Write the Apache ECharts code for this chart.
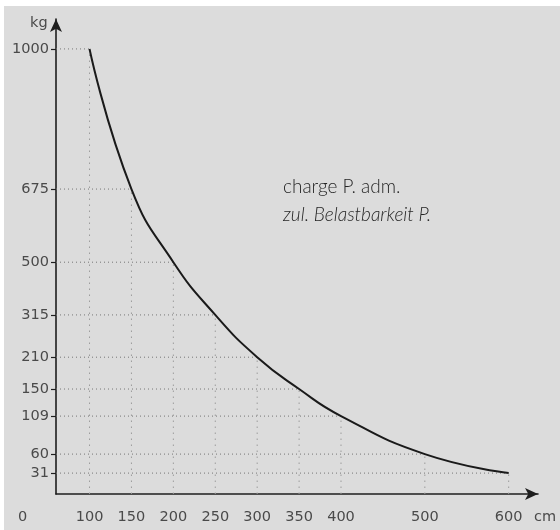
<!DOCTYPE html>
<html>
<head>
<meta charset="utf-8">
<script src="https://cdn.jsdelivr.net/npm/echarts@6/dist/echarts.min.js"></script>
<style>
  html, body { margin: 0; padding: 0; background: #fff; }
  #chart { width: 560px; height: 530px; }
</style>
</head>
<body>
<div id="chart"></div>
<script>
// span (cm) and admissible load (kg)
const spanCm = [100, 150, 200, 250, 300, 350, 400, 500, 600]
const loadKg = [1000, 675, 500, 315, 210, 150, 109, 60, 31]

// the kg axis of the original is schematic, not linear:
// each load tick sits at its own level (0 = x axis, 100 = top of the axis)
const kgTicks = [31, 60, 109, 150, 210, 315, 500, 675, 1000]
const kgLevels = [4.4, 8.4, 16.4, 22.1, 28.8, 37.7, 48.8, 64.2, 93.7]

const loadToLevel = (kg) => {
  if (kg <= kgTicks[0]) return kg / kgTicks[0] * kgLevels[0]
  for (let i = 1; i < kgTicks.length; i++) {
    if (kg <= kgTicks[i]) {
      const t = (kg - kgTicks[i - 1]) / (kgTicks[i] - kgTicks[i - 1])
      return kgLevels[i - 1] + t * (kgLevels[i] - kgLevels[i - 1])
    }
  }
  return kgLevels[kgLevels.length - 1]
}
const levelToLabel = {}
kgTicks.forEach((kg, i) => { levelToLabel[kgLevels[i]] = String(kg) })

const curve = spanCm.map((s, i) => [s, loadToLevel(loadKg[i])])

const X_MIN = 60
const labelColor = '#4a4a4a'
const labelFont = '14.5px "DejaVu Sans"'

const chart = echarts.init(document.getElementById('chart'))
chart.setOption({
  backgroundColor: '#ffffff',
  animation: false,
  grid: { left: 56, right: 22, top: 19, bottom: 36 },
  xAxis: {
    type: 'value',
    min: X_MIN,
    max: 635,
    splitLine: { show: false },
    axisLine: {
      onZero: false,
      symbol: ['none', 'arrow'],
      symbolSize: [9, 13],
      lineStyle: { color: '#1e1e1e', width: 1.6 }
    },
    axisTick: { show: false },
    axisLabel: {
      customValues: spanCm,
      margin: 16,
      color: labelColor,
      fontFamily: 'DejaVu Sans',
      fontSize: 14.5
    }
  },
  yAxis: {
    type: 'value',
    min: 0,
    max: 100,
    splitLine: { show: false },
    axisLine: {
      onZero: false,
      symbol: ['none', 'arrow'],
      symbolSize: [9, 13],
      lineStyle: { color: '#1e1e1e', width: 1.6 }
    },
    axisTick: {
      customValues: kgLevels,
      length: 5,
      lineStyle: { color: '#1e1e1e', width: 1.2 }
    },
    axisLabel: {
      customValues: kgLevels,
      margin: 7,
      color: labelColor,
      fontFamily: 'DejaVu Sans',
      fontSize: 14.5,
      formatter: (v) => levelToLabel[v] || ''
    }
  },
  graphic: [
    {
      type: 'rect',
      z: -10,
      silent: true,
      shape: { x: 4, y: 6, width: 560, height: 530 },
      style: { fill: '#dcdcdc' }
    },
    {
      type: 'text', left: 30, top: 16,
      style: { text: 'kg', font: labelFont, fill: labelColor }
    },
    {
      type: 'text', left: 18, top: 510,
      style: { text: '0', font: labelFont, fill: labelColor }
    },
    {
      type: 'text', left: 534, top: 510,
      style: { text: 'cm', font: labelFont, fill: labelColor }
    },
    {
      type: 'text', left: 283, top: 177,
      style: { text: 'charge P. adm.', font: '300 19px Lato', fill: '#262626' }
    },
    {
      type: 'text', left: 283, top: 205,
      style: { text: 'zul. Belastbarkeit P.', font: 'italic 300 19px Lato', fill: '#262626' }
    }
  ],
  series: [
    {
      // dotted guides from both axes to each curve point
      type: 'custom',
      silent: true,
      z: 1,
      data: curve,
      renderItem: (params, api) => {
        const p = api.coord([api.value(0), api.value(1)])
        const yAxisPt = api.coord([X_MIN, api.value(1)])
        const xAxisPt = api.coord([api.value(0), 0])
        return {
          type: 'group',
          children: [
            {
              type: 'line',
              shape: { x1: yAxisPt[0], y1: p[1], x2: p[0], y2: p[1] },
              style: { stroke: '#767676', lineWidth: 1, lineDash: [1, 3] }
            },
            {
              type: 'line',
              shape: { x1: p[0], y1: xAxisPt[1], x2: p[0], y2: p[1] },
              style: { stroke: '#9c9c9c', lineWidth: 1, lineDash: [1.5, 4.5] }
            }
          ]
        }
      }
    },
    {
      type: 'line',
      data: curve,
      z: 3,
      smooth: 0.5,
      showSymbol: false,
      lineStyle: { color: '#1a1a1a', width: 2 }
    }
  ]
})
</script>
</body>
</html>
